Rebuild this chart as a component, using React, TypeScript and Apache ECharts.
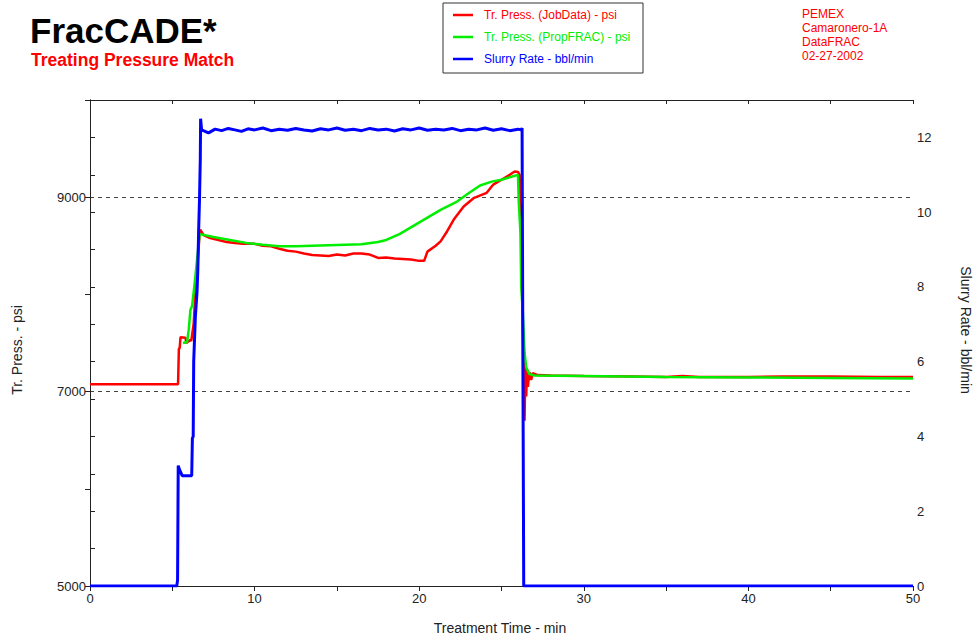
import React, { useEffect, useRef } from "react";
import * as echarts from "echarts";

const FONT = "'Liberation Sans', Arial, sans-serif";

const timeTicks = [0, 10, 20, 30, 40, 50];
const pressureTicks = [5000, 7000, 9000];
const rateTicks = [0, 2, 4, 6, 8, 10, 12];

const jobTime = [0, 5.35, 5.4, 5.45, 5.5, 5.8, 5.85, 6.1, 6.15, 6.3, 6.45, 6.55, 6.65, 6.7, 6.9, 7.3, 7.8, 8.3, 8.8, 9.3, 10, 10.5, 11, 11.5, 12, 12.5, 13, 13.5, 14, 14.5, 15, 15.5, 16, 16.5, 17, 17.5, 18, 18.5, 19, 19.5, 20, 20.3, 20.5, 21, 21.3, 21.7, 22.1, 22.7, 23.3, 24.1, 24.5, 25, 25.5, 25.8, 26.0, 26.1, 26.15, 26.25, 26.3, 26.35, 26.4, 26.45, 26.5, 26.55, 26.6, 26.7, 26.8, 26.9, 27.2, 28, 30, 33, 35, 36, 37, 40, 42, 45, 48, 50];
const jobPressure = [7075, 7075, 7440, 7450, 7560, 7555, 7500, 7530, 7520, 7700, 8150, 8360, 8600, 8665, 8610, 8580, 8560, 8540, 8530, 8520, 8520, 8500, 8495, 8470, 8450, 8440, 8420, 8405, 8400, 8395, 8410, 8400, 8420, 8420, 8410, 8375, 8380, 8370, 8365, 8360, 8345, 8345, 8440, 8500, 8545, 8650, 8770, 8905, 8990, 9045, 9130, 9180, 9230, 9265, 9260, 9230, 9000, 8200, 7600, 7300, 6700, 7250, 6950, 7220, 7050, 7200, 7120, 7190, 7170, 7165, 7160, 7155, 7150, 7160, 7150, 7150, 7155, 7155, 7150, 7150];

const propTime = [5.65, 5.9, 6.0, 6.1, 6.2, 6.35, 6.5, 6.65, 6.7, 7.5, 8.5, 9.5, 10.5, 11.5, 12.5, 13.5, 14.5, 15.5, 16.5, 17.5, 18.0, 18.8, 19.6, 20.5, 21.3, 22.3, 23.0, 23.7, 24.4, 25.0, 25.6, 26.0, 26.05, 26.15, 26.2, 26.3, 26.4, 26.5, 26.7, 27.0, 30, 35, 40, 45, 50];
const propPressure = [7500, 7510, 7640, 7840, 7880, 8100, 8350, 8600, 8620, 8590, 8560, 8530, 8510, 8495, 8495, 8500, 8505, 8510, 8515, 8540, 8560, 8620, 8700, 8790, 8870, 8955, 9040, 9120, 9160, 9180, 9210, 9230, 8950, 8640, 8070, 7800, 7400, 7250, 7180, 7165, 7160, 7150, 7145, 7140, 7135];

const rateTime = [0, 5.27, 5.32, 5.36, 5.45, 5.6, 6.18, 6.22, 6.27, 6.3, 6.4, 6.5, 6.55, 6.6, 6.65, 6.7, 6.72, 6.78, 7.2, 7.6, 8.0, 8.4, 8.8, 9.2, 9.6, 10.0, 10.5, 11.0, 11.5, 12.0, 12.5, 13.0, 13.5, 14.0, 14.5, 15.0, 15.5, 16.0, 16.5, 17.0, 17.5, 18.0, 18.5, 19.0, 19.5, 20.0, 20.5, 21.0, 21.5, 22.0, 22.5, 23.0, 23.5, 24.0, 24.5, 25.0, 25.5, 26.0, 26.2, 26.25, 26.3, 26.35, 50];
const rateValues = [0, 0, 0.15, 3.22, 3.1, 2.95, 2.95, 3.95, 4.0, 6.0, 7.2, 7.85, 8.45, 9.5, 10.3, 11.4, 12.5, 12.2, 12.12, 12.22, 12.18, 12.24, 12.2, 12.16, 12.23, 12.2, 12.25, 12.18, 12.22, 12.19, 12.24, 12.2, 12.17, 12.23, 12.2, 12.25, 12.19, 12.22, 12.18, 12.24, 12.2, 12.22, 12.17, 12.23, 12.2, 12.25, 12.19, 12.22, 12.2, 12.24, 12.18, 12.22, 12.2, 12.25, 12.19, 12.23, 12.18, 12.22, 12.2, 12.25, 6.0, 0, 0];

const seriesNames = [
  "Tr. Press. (JobData) - psi",
  "Tr. Press. (PropFRAC) - psi",
  "Slurry Rate - bbl/min",
];
const seriesColors = ["#ff0000", "#00ee00", "#0000ff"];
const infoLines = ["PEMEX", "Camaronero-1A", "DataFRAC", "02-27-2002"];

const zip = (xs: number[], ys: number[]) => xs.map((x, i) => [x, ys[i]]);

export default function App() {
  const ref = useRef<HTMLDivElement>(null);
  useEffect(() => {
    document.body.style.margin = "0";
    const chart = echarts.init(ref.current!, null, { renderer: "svg" });
    const axisLineStyle = { color: "#222", width: 1 };
    const labelStyle = { color: "#222", fontSize: 13, fontFamily: FONT };
    chart.setOption({
      animation: false,
      backgroundColor: "#ffffff",
      textStyle: { fontFamily: FONT },
      grid: { left: 90, right: 65, top: 100, bottom: 55, containLabel: false },
      legend: {
        orient: "vertical",
        left: 453,
        top: 9,
        padding: 0,
        itemWidth: 20,
        itemHeight: 2.5,
        itemGap: 10,
        selectedMode: false,
        textStyle: { fontSize: 12, fontFamily: FONT, padding: [0, 0, 0, 6] },
        data: seriesNames.map((n, i) => ({
          name: n,
          icon: "rect",
          textStyle: { color: seriesColors[i] },
        })),
      },
      graphic: [
        {
          type: "rect",
          shape: { x: 443, y: 3, width: 200, height: 70 },
          style: { fill: "none", stroke: "#333", lineWidth: 1 },
          silent: true,
        },
        {
          type: "text",
          left: 30,
          top: 13,
          style: { text: "FracCADE*", fill: "#000", font: `bold 35px ${FONT}` },
        },
        {
          type: "text",
          left: 31,
          top: 51,
          style: { text: "Treating Pressure Match", fill: "#ff0000", font: `bold 17.5px ${FONT}` },
        },
        ...infoLines.map((t, i) => ({
          type: "text",
          left: 802,
          top: 8 + i * 14,
          style: { text: t, fill: "#ff0000", font: `12px ${FONT}` },
        })),
        {
          type: "text",
          x: 500,
          y: 628,
          style: {
            text: "Treatment Time - min",
            fill: "#222",
            font: `14px ${FONT}`,
            align: "center",
            verticalAlign: "middle",
          },
        },
        {
          type: "text",
          x: 17,
          y: 350,
          rotation: Math.PI / 2,
          style: {
            text: "Tr. Press. - psi",
            fill: "#222",
            font: `14px ${FONT}`,
            align: "center",
            verticalAlign: "middle",
          },
        },
        {
          type: "text",
          x: 966,
          y: 330,
          rotation: -Math.PI / 2,
          style: {
            text: "Slurry Rate - bbl/min",
            fill: "#222",
            font: `14px ${FONT}`,
            align: "center",
            verticalAlign: "middle",
          },
        },
      ],
      xAxis: [
        {
          type: "value",
          position: "bottom",
          min: 0,
          max: 50,
          interval: 5,
          axisLine: { show: true, lineStyle: axisLineStyle },
          axisTick: { show: true, length: 5, lineStyle: axisLineStyle },
          axisLabel: {
            ...labelStyle,
            margin: 6,
            formatter: (v: number) => (timeTicks.includes(v) ? String(v) : ""),
          },
          splitLine: { show: false },
        },
        {
          type: "value",
          position: "top",
          min: 0,
          max: 50,
          interval: 5,
          axisLine: { show: true, onZero: false, lineStyle: axisLineStyle },
          axisTick: { show: true, inside: true, length: 4, lineStyle: axisLineStyle },
          axisLabel: { show: false },
          splitLine: { show: false },
        },
      ],
      yAxis: [
        {
          type: "value",
          position: "left",
          min: 5000,
          max: 10000,
          interval: 1000,
          axisLine: { show: true, lineStyle: axisLineStyle },
          axisTick: { show: true, length: 5, lineStyle: axisLineStyle },
          axisLabel: {
            ...labelStyle,
            margin: 4,
            formatter: (v: number) => (pressureTicks.includes(v) ? String(v) : ""),
          },
          splitLine: { show: false },
        },
        {
          type: "value",
          position: "right",
          min: 0,
          max: 13,
          interval: 1,
          axisLine: { show: true, lineStyle: axisLineStyle },
          axisTick: { show: true, length: 5, lineStyle: axisLineStyle },
          axisLabel: {
            ...labelStyle,
            margin: 4,
            formatter: (v: number) => (rateTicks.includes(v) ? String(v) : ""),
          },
          splitLine: { show: false },
        },
        {
          type: "value",
          position: "left",
          min: 5000,
          max: 10000,
          interval: 2000,
          axisLine: { show: false },
          axisTick: { show: false },
          axisLabel: { show: false },
          splitLine: { show: true, lineStyle: { color: "#444", width: 1, type: [4, 4] } },
        },
      ],
      series: [
        {
          name: seriesNames[0],
          type: "line",
          xAxisIndex: 0,
          yAxisIndex: 0,
          data: zip(jobTime, jobPressure),
          showSymbol: false,
          symbol: "none",
          color: seriesColors[0],
          lineStyle: { color: seriesColors[0], width: 2.5 },
          z: 3,
        },
        {
          name: seriesNames[1],
          type: "line",
          xAxisIndex: 0,
          yAxisIndex: 0,
          data: zip(propTime, propPressure),
          showSymbol: false,
          symbol: "none",
          color: seriesColors[1],
          lineStyle: { color: seriesColors[1], width: 2.5 },
          z: 4,
        },
        {
          name: seriesNames[2],
          type: "line",
          xAxisIndex: 0,
          yAxisIndex: 1,
          data: zip(rateTime, rateValues),
          showSymbol: false,
          symbol: "none",
          color: seriesColors[2],
          lineStyle: { color: seriesColors[2], width: 3 },
          z: 5,
        },
      ],
    });
    return () => chart.dispose();
  }, []);
  return (
    <div
      ref={ref}
      style={{ position: "fixed", left: 0, top: 0, width: 978, height: 641 }}
    />
  );
}
